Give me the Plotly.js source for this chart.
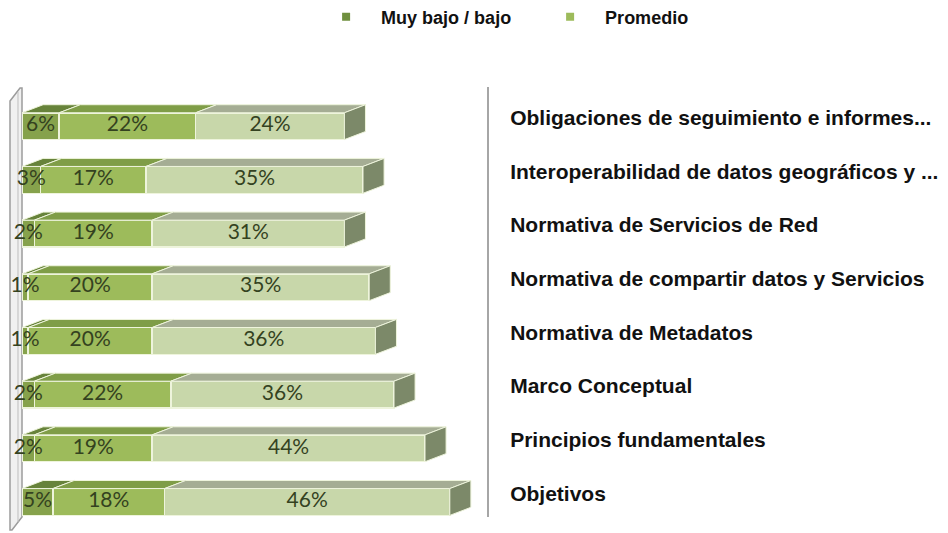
<!DOCTYPE html>
<html><head><meta charset="utf-8">
<script src="https://cdn.plot.ly/plotly-3.0.1.min.js"></script>
<style>html,body{margin:0;padding:0;background:#fff}#chart{width:948px;height:533px}</style>
</head><body><div id="chart"></div>
<script>
// ---- data (top row first, as displayed) ----
const categories = [
  "Obligaciones de seguimiento e informes...",
  "Interoperabilidad de datos geográficos y ...",
  "Normativa de Servicios de Red",
  "Normativa de compartir datos y Servicios",
  "Normativa de Metadatos",
  "Marco Conceptual",
  "Principios fundamentales",
  "Objetivos"
];
const muyBajo  = [6, 3, 2, 1, 1, 2, 2, 5];
const promedio = [22, 17, 19, 20, 20, 22, 19, 18];
const alto     = [24, 35, 31, 35, 36, 36, 44, 46];
const seriesNames = ["Muy bajo / bajo", "Promedio", "Alto / muy alto"];
const legendNames = ["Muy bajo / bajo", "Promedio"];

// ---- styling ----
const n = categories.length;
const pos = categories.map((c, k) => n - 1 - k);
const BAR_W = 0.5, DX = 3.4, DY = 0.15;
const frontColors = ['#86a24c', '#9dbb5b', '#c8d7aa'];
const topColors = ['#67833a', '#7f9d47', '#a5ad94'];
const sideColor = '#7c8969';
const edge = '#eef4dc';
const series = [muyBajo, promedio, alto];

const traces = [];
series.forEach((vals, j) => {
  traces.push({
    type: 'bar', orientation: 'h', x: vals, y: pos, name: seriesNames[j],
    width: BAR_W,
    marker: {color: frontColors[j], line: {color: edge, width: 1.5}},
    showlegend: false, hoverinfo: 'x+name'
  });
});

// top faces (3D look), computed from the data through the axes
series.forEach((vals, j) => {
  const xs = [], ys = [];
  vals.forEach((v, k) => {
    let x0 = 0;
    for (let q = 0; q < j; q++) x0 += series[q][k];
    const x1 = x0 + v;
    const yt = pos[k] + BAR_W / 2;
    xs.push(x0, x1, x1 + DX, x0 + DX, x0, null);
    ys.push(yt, yt, yt + DY, yt + DY, yt, null);
  });
  traces.push({type: 'scatter', mode: 'lines', x: xs, y: ys, fill: 'toself',
    fillcolor: topColors[j], line: {color: edge, width: 1}, hoverinfo: 'skip',
    showlegend: false, cliponaxis: false});
});
// side faces
{
  const xs = [], ys = [];
  categories.forEach((c, k) => {
    const T = series.reduce((s, a) => s + a[k], 0);
    const yt = pos[k] + BAR_W / 2, yb = pos[k] - BAR_W / 2;
    xs.push(T, T, T + DX, T + DX, T, null);
    ys.push(yb, yt, yt + DY, yb + DY, yb, null);
  });
  traces.push({type: 'scatter', mode: 'lines', x: xs, y: ys, fill: 'toself',
    fillcolor: sideColor, line: {color: edge, width: 1}, hoverinfo: 'skip',
    showlegend: false, cliponaxis: false});
}
// data labels centred on each segment (drawn above all bars)
series.forEach((vals, j) => {
  const xs = vals.map((v, k) => {
    let x0 = 0;
    for (let q = 0; q < j; q++) x0 += series[q][k];
    return x0 + v / 2;
  });
  traces.push({type: 'scatter', mode: 'text', x: xs, y: pos,
    text: vals.map(v => v + '%'), textposition: 'middle center',
    textfont: {family: 'Lato, Open Sans, sans-serif', size: 21, color: '#34421f'},
    hoverinfo: 'skip', showlegend: false, cliponaxis: false});
});
// legend entries
legendNames.forEach((nm, j) => {
  traces.push({type: 'scatter', mode: 'markers', x: [null], y: [null],
    name: '\u00a0\u00a0\u00a0' + nm,
    marker: {symbol: 'square', size: 8, color: j === 0 ? '#6f8f3e' : '#9dbb5b'},
    hoverinfo: 'skip'});
});

// left wall decoration (paper coordinates)
const PX = p => (p - 22) / 465;
const PY = p => (517 - p) / 430;
const wallPath = `M${PX(10)},${PY(101)} L${PX(20)},${PY(88)} L${PX(22)},${PY(88)} L${PX(22)},${PY(517)} L${PX(12)},${PY(530)} L${PX(10)},${PY(530)} Z`;

const layout = {
  width: 948, height: 533,
  margin: {l: 22, r: 461, t: 87, b: 16},
  paper_bgcolor: '#ffffff', plot_bgcolor: 'rgba(0,0,0,0)',
  barmode: 'stack',
  xaxis: {range: [0, 75], visible: false, fixedrange: true},
  yaxis: {
    range: [-0.28, 7.73], side: 'right',
    tickvals: pos.map(p => p + 0.16), ticktext: categories,
    showline: true, linecolor: '#a6a6a6', linewidth: 2,
    showgrid: false, zeroline: false, ticks: '', ticklabelstandoff: 17,
    tickfont: {family: 'Liberation Sans, Arial, sans-serif', size: 21, color: '#111111', weight: 'bold'},
    fixedrange: true
  },
  showlegend: true,
  legend: {
    orientation: 'h', xref: 'container', yref: 'container', traceorder: 'normal',
    x: 0.344, y: 1 - 17 / 533, xanchor: 'left', yanchor: 'middle',
    font: {family: 'Liberation Sans, Arial, sans-serif', size: 18, color: '#111111', weight: 'bold'},
    entrywidth: 179, bgcolor: 'rgba(0,0,0,0)'
  },
  shapes: [
    {type: 'path', xref: 'paper', yref: 'paper', path: wallPath, fillcolor: '#f0f0f0',
      line: {color: '#9c9c9c', width: 1.5}, layer: 'below'},
    {type: 'line', xref: 'paper', yref: 'paper', x0: PX(18), x1: PX(18), y0: PY(92), y1: PY(522),
      line: {color: '#bdbdbd', width: 1}, layer: 'below'}
  ]
};

Plotly.newPlot('chart', traces, layout, {displayModeBar: false, staticPlot: true});
</script>
</body></html>
